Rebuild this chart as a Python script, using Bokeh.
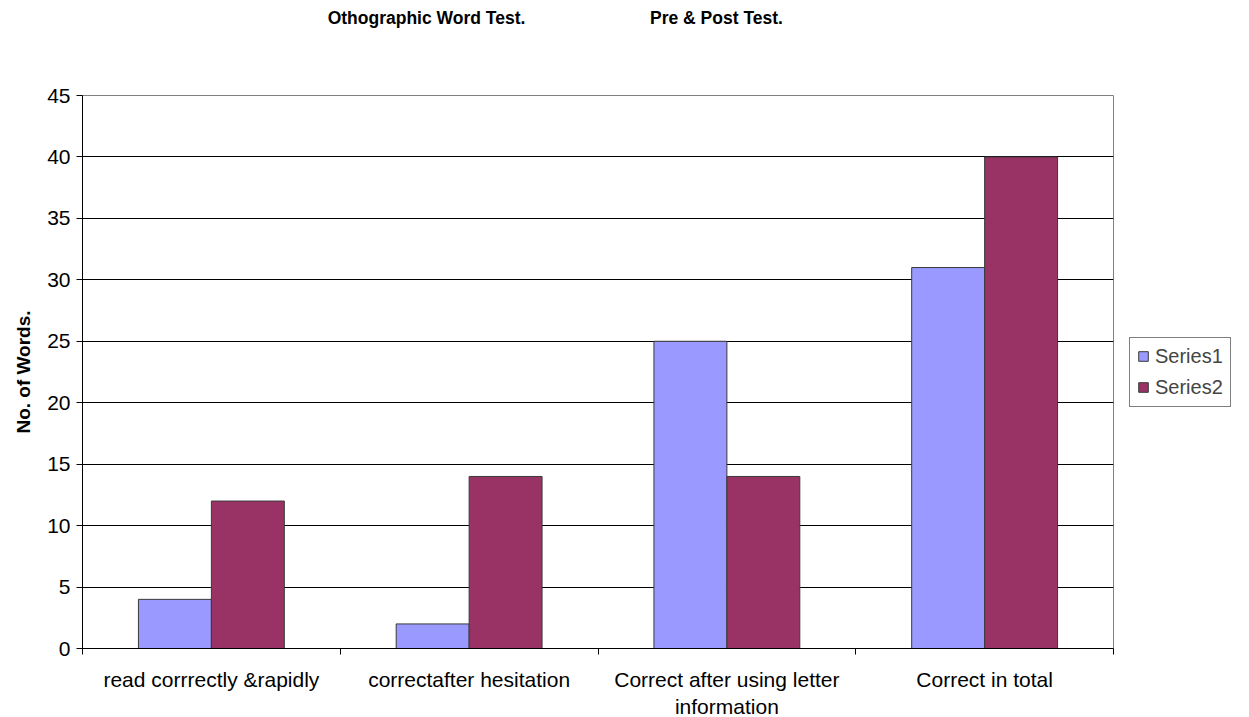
from bokeh.plotting import figure
from bokeh.models import (ColumnDataSource, FixedTicker, Range1d, Legend,
                          LegendItem, LinearAxis)
from bokeh.embed import file_html
from bokeh.resources import INLINE
import numpy as np

# --- data -----------------------------------------------------------------
categories = ["read corrrectly &rapidly", "correctafter hesitation",
              "Correct after using letter\ninformation", "Correct in total"]
series1 = [4, 2, 25, 31]
series2 = [12, 14, 14, 40]
series_names = ["Series1", "Series2"]
y_ticks = [0, 5, 10, 15, 20, 25, 30, 35, 40, 45]
title_parts = ["Othographic Word Test.", "Pre & Post Test."]

FONT = "Liberation Sans"
C1 = "#9999FF"
C2 = "#993366"

centers = np.arange(len(categories)) + 0.5
bar_w = 0.283

src = ColumnDataSource(dict(
    x1=centers - bar_w / 2, x2=centers + bar_w / 2,
    s1=series1, s2=series2))

p = figure(frame_width=1031, frame_height=553, output_backend="svg",
           toolbar_location=None,
           x_range=Range1d(0, len(categories)), y_range=Range1d(0, 45),
           min_border_left=82, min_border_right=0,
           min_border_top=95, min_border_bottom=69)
p.background_fill_color = "white"
p.border_fill_color = "white"
p.outline_line_color = "#808080"
p.outline_line_width = 1

r1 = p.vbar(x="x1", top="s1", width=bar_w, source=src, fill_color=C1,
            line_color="#3a3a3a", line_width=1)
r2 = p.vbar(x="x2", top="s2", width=bar_w, source=src, fill_color=C2,
            line_color="#3a3a3a", line_width=1)

# x axis: labels centred under groups, tick marks at group boundaries
xa = p.xaxis[0]
xa.ticker = FixedTicker(ticks=list(centers),
                        minor_ticks=list(range(len(categories) + 1)))
xa.major_label_overrides = {float(c): lab for c, lab in zip(centers, categories)}
xa.major_tick_out = 0
xa.major_tick_in = 0
xa.minor_tick_out = 6
xa.minor_tick_in = 0
xa.minor_tick_line_color = "black"
xa.axis_line_color = "black"
xa.major_label_text_font = FONT
xa.major_label_text_font_size = "21px"
xa.major_label_text_color = "black"
xa.major_label_standoff = 13

ya = p.yaxis[0]
ya.ticker = FixedTicker(ticks=y_ticks)
ya.major_tick_out = 6
ya.major_tick_in = 0
ya.minor_tick_line_color = None
ya.axis_line_color = "black"
ya.major_label_text_font = FONT
ya.major_label_text_font_size = "21px"
ya.major_label_text_color = "black"
ya.major_label_standoff = 6
ya.axis_label = "No. of Words."
ya.axis_label_text_font = FONT
ya.axis_label_text_font_size = "19px"
ya.axis_label_text_font_style = "bold"
ya.axis_label_text_color = "black"
ya.axis_label_standoff = 10

p.xgrid.grid_line_color = None
p.ygrid.ticker = FixedTicker(ticks=y_ticks[1:-1])
p.ygrid.grid_line_color = "black"
p.ygrid.grid_line_width = 1

# heading: two bold phrases on one line, carried by a bare axis above
head_x = [1.3346, 2.4597]
head = LinearAxis(ticker=FixedTicker(ticks=head_x),
                  major_label_overrides={hx: t for hx, t in zip(head_x, title_parts)},
                  axis_line_color=None, major_tick_line_color=None,
                  minor_tick_line_color=None, major_label_standoff=62,
                  major_label_text_font=FONT, major_label_text_font_size="17.5px",
                  major_label_text_font_style="bold",
                  major_label_text_color="black")
p.add_layout(head, "above")

legend = Legend(items=[LegendItem(label=series_names[0], renderers=[r1]),
                       LegendItem(label=series_names[1], renderers=[r2])],
                location="center_left")
legend.margin = 16
legend.padding = 7
legend.spacing = 8
legend.glyph_width = 12
legend.glyph_height = 12
legend.label_text_font = FONT
legend.label_text_font_size = "20px"
legend.label_standoff = 6
legend.border_line_color = "black"
legend.border_line_width = 1
p.add_layout(legend, "right")

open("out.html", "w").write(file_html(p, INLINE))
